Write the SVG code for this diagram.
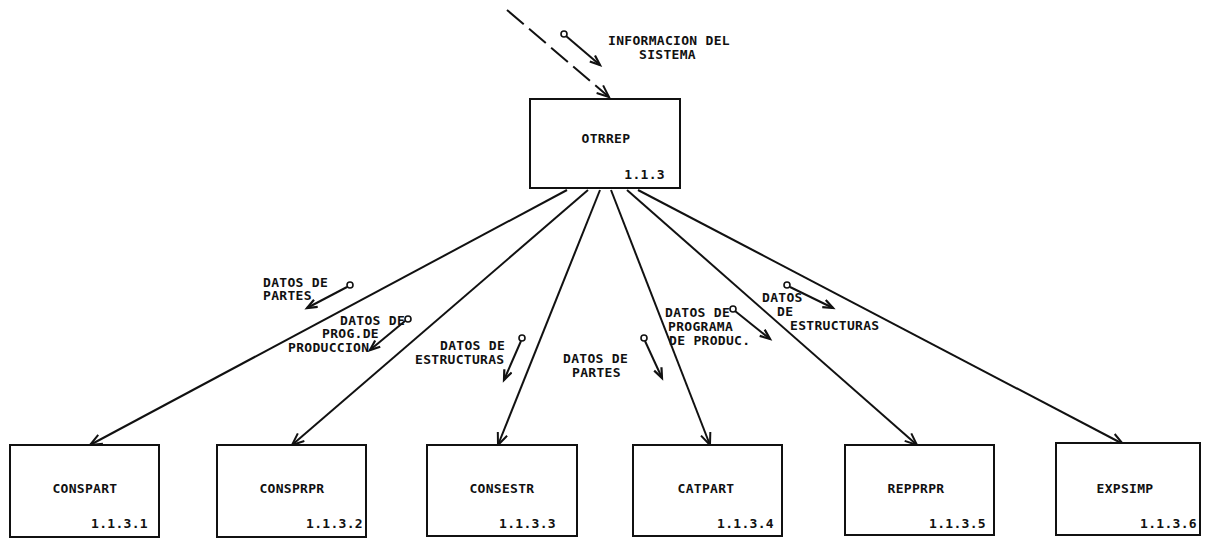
<svg xmlns="http://www.w3.org/2000/svg" width="1206" height="540" viewBox="0 0 1206 540">
<style>
  .box{fill:#fff;stroke:#111;stroke-width:2}
  .t{font-family:"DejaVu Sans Mono","Liberation Mono",monospace;font-size:13px;font-weight:bold;letter-spacing:0.3px;fill:#111}
  .c{stroke:#111;stroke-width:2;fill:none}
  .f{stroke:#111;stroke-width:2;fill:none}
  .o{stroke:#111;stroke-width:1.6;fill:#fff}
</style>
<defs>
  <marker id="ah" markerUnits="userSpaceOnUse" markerWidth="16" markerHeight="14" refX="13" refY="6" orient="auto">
    <path d="M1,1 L13,6 L1,11" fill="none" stroke="#111" stroke-width="2"/>
  </marker>
  <marker id="sh" markerUnits="userSpaceOnUse" markerWidth="14" markerHeight="12" refX="11" refY="5" orient="auto">
    <path d="M1,1 L11,5 L1,9" fill="none" stroke="#111" stroke-width="2.2"/>
  </marker>
</defs>
<rect width="1206" height="540" fill="#fff"/>

<g id="connectors">
  <line class="c" x1="507" y1="10" x2="609" y2="97" stroke-dasharray="22 7" marker-end="url(#ah)"/>
  <line class="c" x1="567" y1="190" x2="90" y2="445" marker-end="url(#ah)"/>
  <line class="c" x1="588" y1="190" x2="292" y2="445" marker-end="url(#ah)"/>
  <line class="c" x1="600" y1="190" x2="498" y2="445" marker-end="url(#ah)"/>
  <line class="c" x1="611" y1="190" x2="710" y2="445" marker-end="url(#ah)"/>
  <line class="c" x1="627" y1="190" x2="917" y2="445" marker-end="url(#ah)"/>
  <line class="c" x1="638" y1="190" x2="1123" y2="444" marker-end="url(#ah)"/>
</g>

<g id="flows">
  <g id="flow-info">
    <line class="f" x1="566" y1="36" x2="600" y2="65" marker-end="url(#sh)"/>
    <circle class="o" cx="564" cy="34" r="3"/>
    <text class="t" x="608" y="45">INFORMACION DEL</text>
    <text class="t" x="639" y="59">SISTEMA</text>
  </g>
  <g id="flow-1">
    <line class="f" x1="347" y1="287" x2="307" y2="308" marker-end="url(#sh)"/>
    <circle class="o" cx="350" cy="285" r="3"/>
    <text class="t" x="263" y="287">DATOS DE</text>
    <text class="t" x="263" y="300">PARTES</text>
  </g>
  <g id="flow-2">
    <line class="f" x1="405" y1="321" x2="370" y2="350" marker-end="url(#sh)"/>
    <circle class="o" cx="408" cy="319" r="3"/>
    <text class="t" x="340" y="325">DATOS DE</text>
    <text class="t" x="322" y="338">PROG.DE</text>
    <text class="t" x="288" y="352">PRODUCCION</text>
  </g>
  <g id="flow-3">
    <line class="f" x1="521" y1="341" x2="504" y2="380" marker-end="url(#sh)"/>
    <circle class="o" cx="522" cy="338" r="3"/>
    <text class="t" x="440" y="350">DATOS DE</text>
    <text class="t" x="415" y="364">ESTRUCTURAS</text>
  </g>
  <g id="flow-4">
    <line class="f" x1="645" y1="341" x2="662" y2="378" marker-end="url(#sh)"/>
    <circle class="o" cx="644" cy="338" r="3"/>
    <text class="t" x="563" y="363">DATOS DE</text>
    <text class="t" x="572" y="377">PARTES</text>
  </g>
  <g id="flow-5">
    <line class="f" x1="735" y1="311" x2="770" y2="339" marker-end="url(#sh)"/>
    <circle class="o" cx="733" cy="309" r="3"/>
    <text class="t" x="665" y="317">DATOS DE</text>
    <text class="t" x="668" y="331">PROGRAMA</text>
    <text class="t" x="669" y="345">DE PRODUC.</text>
  </g>
  <g id="flow-6">
    <line class="f" x1="790" y1="287" x2="833" y2="308" marker-end="url(#sh)"/>
    <circle class="o" cx="787" cy="285" r="3"/>
    <text class="t" x="762" y="302">DATOS</text>
    <text class="t" x="777" y="316">DE</text>
    <text class="t" x="790" y="330">ESTRUCTURAS</text>
  </g>
</g>

<g id="otrrep">
  <rect class="box" x="530" y="99" width="150" height="89"/>
  <text class="t" x="606" y="143" text-anchor="middle">OTRREP</text>
  <text class="t" x="665" y="179" text-anchor="end">1.1.3</text>
</g>
<g id="conspart">
  <rect class="box" x="10" y="445" width="149" height="92"/>
  <text class="t" x="85" y="493" text-anchor="middle">CONSPART</text>
  <text class="t" x="148" y="528" text-anchor="end">1.1.3.1</text>
</g>
<g id="consprpr">
  <rect class="box" x="217" y="445" width="149" height="92"/>
  <text class="t" x="292" y="493" text-anchor="middle">CONSPRPR</text>
  <text class="t" x="363" y="528" text-anchor="end">1.1.3.2</text>
</g>
<g id="consestr">
  <rect class="box" x="427" y="445" width="150" height="91"/>
  <text class="t" x="502" y="493" text-anchor="middle">CONSESTR</text>
  <text class="t" x="556" y="528" text-anchor="end">1.1.3.3</text>
</g>
<g id="catpart">
  <rect class="box" x="633" y="445" width="149" height="91"/>
  <text class="t" x="706" y="493" text-anchor="middle">CATPART</text>
  <text class="t" x="774" y="528" text-anchor="end">1.1.3.4</text>
</g>
<g id="repprpr">
  <rect class="box" x="845" y="445" width="149" height="90"/>
  <text class="t" x="916" y="493" text-anchor="middle">REPPRPR</text>
  <text class="t" x="986" y="528" text-anchor="end">1.1.3.5</text>
</g>
<g id="expsimp">
  <rect class="box" x="1056" y="443" width="144" height="92"/>
  <text class="t" x="1125" y="493" text-anchor="middle">EXPSIMP</text>
  <text class="t" x="1197" y="528" text-anchor="end">1.1.3.6</text>
</g>
</svg>
